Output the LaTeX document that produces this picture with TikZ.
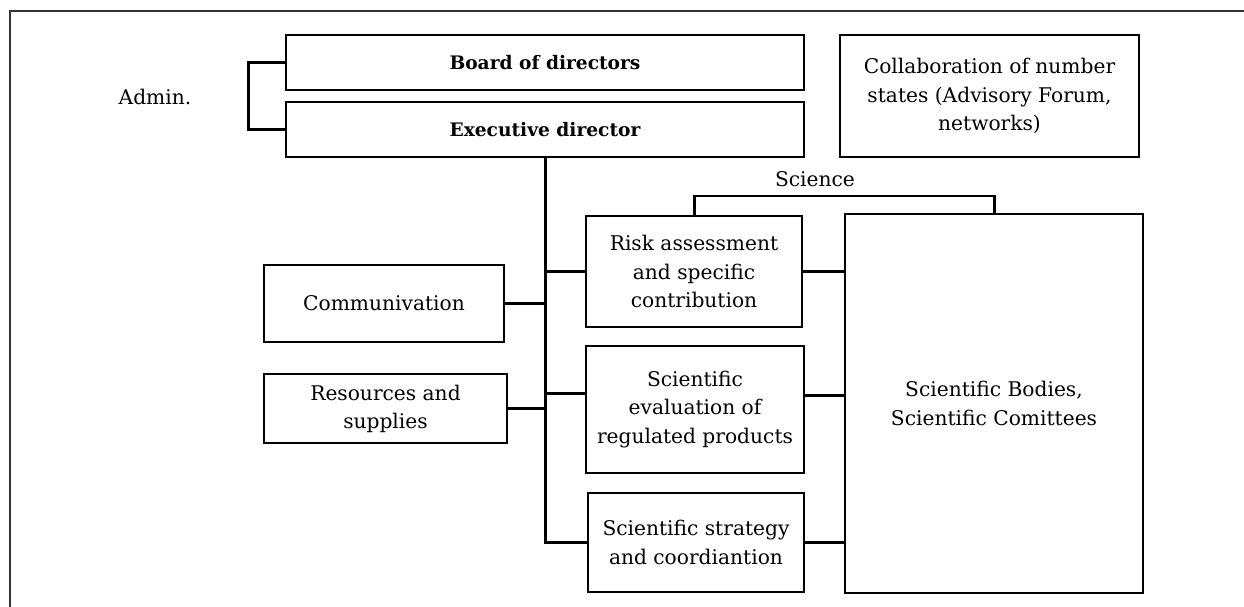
\documentclass[tikz,border=0pt]{standalone}
\usepackage{fontspec}
\setmainfont{DejaVu Serif}
\usetikzlibrary{calc,positioning}

\begin{document}
\begin{tikzpicture}[%
    x=0.02cm, y=-0.02cm,
    text=black,
    node font=\fontsize{11.5}{16}\selectfont,
    box/.style={rectangle, draw, line width=1.1pt, align=center,
      inner sep=2pt},
    headbox/.style={box, minimum width=10.36cm, minimum height=1.1cm,
      font=\fontsize{10.6}{16}\selectfont\bfseries},
    link/.style={line width=1.7pt},
    frame/.style={line width=1.4pt, draw=black!80}]

  \useasboundingbox (0,0) rectangle (1244,607);
  \draw[frame] (10,607) -- (10,11) -- (1244,11);

  % --- admin ---------------------------
  \node (BRD) at (545,62.5) [headbox] {Board of directors};
  \node (EXE) at (545,129.5) [headbox] {Executive director};
  \node (ADM) at (155,97) {Admin.};

  \coordinate (A1) at ($(BRD.west)+(-37,0)$);
  \draw[link] (BRD.west) -- (A1) -- (A1 |- EXE.west) -- (EXE.west);

  \node (COL) at (989.5,96) [box, minimum width=5.98cm,
    minimum height=2.44cm]
        {Collaboration of number\\states (Advisory Forum,\\networks)};

  % --- science -------------------------
  \node (RSK) at (694,271.5) [box, minimum width=4.32cm,
    minimum height=2.22cm]
        {Risk assessment\\and specific\\contribution};
  \node (EVL) at (695,409.5) [box, minimum width=4.36cm,
    minimum height=2.54cm]
        {Scientific\\evaluation of\\regulated products};
  \node (STR) at (696,542.5) [box, minimum width=4.32cm,
    minimum height=1.98cm]
        {Scientific strategy\\and coordiantion};
  \node (BOD) at (994,403.5) [box, minimum width=5.96cm,
    minimum height=7.58cm]
        {Scientific Bodies,\\Scientific Comittees};

  \node (SCI) at (815,179) {Science};
  \coordinate (S1) at (RSK.north |- 0,196);
  \draw[link] (RSK.north) -- (S1) -- (S1 -| BOD.north) -- (BOD.north);

  \coordinate (E1) at ($(EVL.west)+(0,-16)$);
  \coordinate (E2) at ($(EVL.east)+(0,-14)$);
  \draw[link] (RSK.east) -- (RSK.east -| BOD.west);
  \draw[link] (E2) -- (E2 -| BOD.west);
  \draw[link] (STR.east) -- (STR.east -| BOD.west);

  % --- support -------------------------
  \node (COM) at (384,303.5) [box, minimum width=4.8cm,
    minimum height=1.54cm] {Communivation};
  \node (RES) at (385.5,408.5) [box, minimum width=4.86cm,
    minimum height=1.38cm] {Resources and\\supplies};

  % trunk
  \draw[link] (EXE.south) |- (STR.west);
  \draw[link] (EXE.south |- RSK.west) -- (RSK.west);
  \draw[link] (EXE.south |- E1) -- (E1);
  \draw[link] (COM.east) -- (COM.east -| EXE.south);
  \draw[link] (RES.east) -- (RES.east -| EXE.south);
\end{tikzpicture}
\end{document}
